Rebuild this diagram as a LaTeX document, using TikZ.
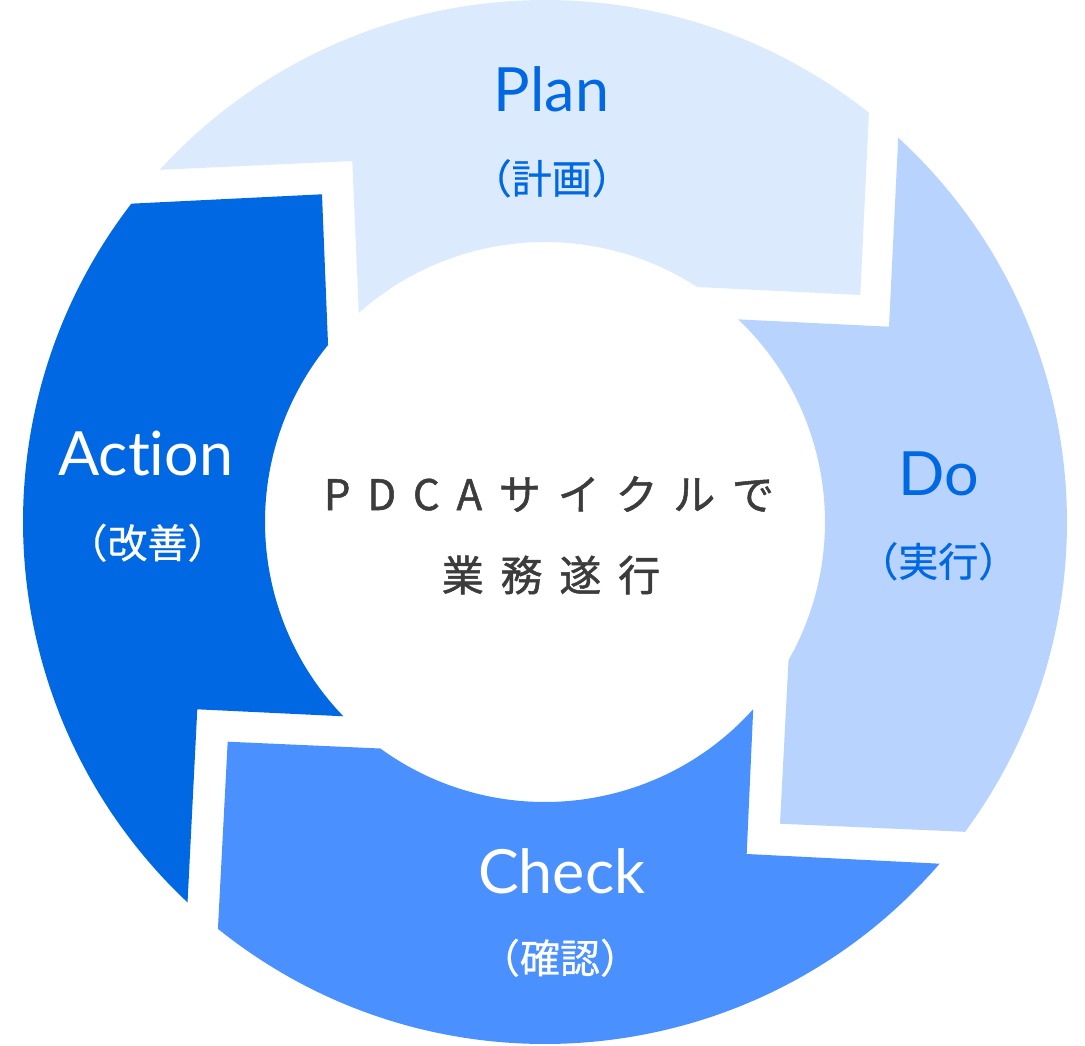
\documentclass[tikz,border=0pt]{standalone}
\usepackage{fontspec}
\setmainfont{Lato}
\newfontfamily\latinfont[Ligatures={NoCommon}]{Lato}
\newfontfamily\jpfont[FakeBold=0.6]{Noto Sans CJK JP}
\newfontfamily\jpspaced[LetterSpace=40,FakeBold=1.2]{Noto Sans CJK JP}
\definecolor{plancol}{HTML}{DCEAFE}
\definecolor{docol}{HTML}{B8D3FE}
\definecolor{checkcol}{HTML}{4A90FE}
\definecolor{actioncol}{HTML}{0068E3}
\definecolor{bluetext}{HTML}{0068E3}
\definecolor{darktext}{HTML}{3C3C3C}
\tikzset{
  title/.style={anchor=base, inner sep=0pt, font=\latinfont\fontsize{61}{64}\selectfont},
  sub/.style={anchor=base, inner sep=0pt, font=\jpfont\fontsize{40}{44}\selectfont},
  centertext/.style={anchor=base, inner sep=0pt, text=darktext, font=\jpspaced\fontsize{42}{46}\selectfont}
}
\begin{document}
\begin{tikzpicture}[x=1pt,y=1pt]
\useasboundingbox (-545pt,-523pt) rectangle (540pt,522pt);
% Plan
\fill[plancol] (51.64:522pt) arc[start angle=51.64, end angle=137.57, radius=522pt]
  -- (-192.7pt,361pt) -- (131.69:280pt) arc[start angle=131.69, end angle=57.07, radius=280pt]
  -- (315.3pt,227pt) -- cycle;
% Do
\fill[docol] (47.41:522pt) arc[start angle=47.41, end angle=-36.41, radius=522pt]
  -- (235pt,-301.7pt) -- (-29.56:280pt) arc[start angle=-29.56, end angle=46.36, radius=280pt]
  -- (344pt,195.3pt) -- cycle;
% Check
\fill[checkcol] (-40.89:522pt) arc[start angle=-40.89, end angle=-128.8, radius=522pt]
  -- (-317.3pt,-219.7pt) -- (-126.01:280pt) arc[start angle=-126.01, end angle=-41.96, radius=280pt]
  -- (201.7pt,-332pt) -- cycle;
% Action
\fill[actioncol] (-133.22:522pt) arc[start angle=-133.22, end angle=-217.58, radius=522pt]
  -- (-223pt,327.7pt) -- (140.79:280pt) arc[start angle=140.79, end angle=223.94, radius=280pt]
  -- (-347.7pt,-187.3pt) -- cycle;
% labels
\node[title, text=bluetext] (plan) at (6.5pt,410.3pt) {Plan};
\node[sub, text=bluetext] (plansub) at (6.7pt,328.5pt) {（計画）};
\node[title, text=bluetext] (do) at (393.3pt,27pt) {Do};
\node[sub, text=bluetext] (dosub) at (393.3pt,-54.5pt) {（実行）};
\node[title, text=white] (action) at (-399.2pt,47pt) {Action};
\node[sub, text=white] (actionsub) at (-397.5pt,-36pt) {（改善）};
\node[title, text=white] (check) at (16.7pt,-371.3pt) {Check};
\node[sub, text=white] (checksub) at (15pt,-451pt) {（確認）};
\node[centertext] (c1) at (4pt,12pt) {PDCAサイクルで};
\node[centertext] (c2) at (6pt,-69pt) {業務遂行};
\end{tikzpicture}
\end{document}
